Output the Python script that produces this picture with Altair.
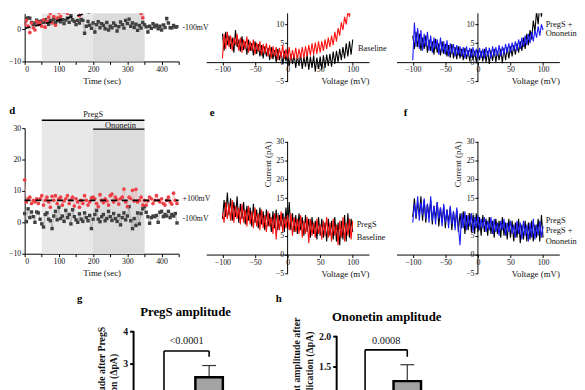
import altair as alt
import pandas as pd

FONT = "Liberation Serif"

# ---------------- data ----------------
TIME_S = list(range(0, 450, 5))

A_POS100 = [1.5, 2.8, 1.0, -1.0, 2.0, 0.5, -0.2, 2.5, 1.5, 2.2,
            1.0, 3.0, 0.7, 2.5, 3.8, 5.0, 2.0, 4.0, 1.3, 3.5,
            5.3, 4.0, 6.0, 5.5, 6.8, 5.0, 7.0, 6.0, 8.5, 7.5,
            6.5, 9.0, 4.3, 8.0, 10.0, 7.0, 9.5, 11.0, 8.5, 10.5,
            12.0, 9.0, 6.2, 11.0, 13.0, 6.8, 8.0, 6.6, 14.0, 11.0,
            9.5, 13.0, 10.5, 15.0, 12.0, 9.0, 13.5, 11.0, 14.0, 10.0,
            6.5, 15.0, 11.0, 13.0, 9.0, 12.0, 14.0, 6.8, 5.0, 3.6,
            8.0, 11.0, 13.0, 9.5, 12.0, 14.0, 10.0, 12.5, 15.0, 11.0,
            13.0, 9.5, 12.0, 14.0, 10.5, 13.0, 11.0, 6.8, 9.0, 12.0]
A_NEG100 = [2.0, 3.4, 3.6, 3.5, 2.2, 1.5, 2.0, 2.9, 2.5, 1.8,
            2.6, 2.2, 3.0, 2.4, 1.6, 2.8, 2.5, 3.2, 2.0, 2.7,
            3.4, 2.4, 3.0, 1.8, 2.9, 3.5, 2.2, 4.3, 3.0, 2.5,
            1.5, 2.8, 2.0, 3.1, 2.8, -1.2, 1.0, 2.5, 1.3, 0.3,
            2.0, -0.8, 1.5, 2.4, 0.5, 1.8, 1.3, 0.2, 2.2, -0.2,
            1.0, 0.5, 2.0, 1.2, -0.5, 0.8, 2.3, 1.5, 0.4, 2.8,
            1.8, 3.2, 1.0, 2.0, 0.6, 1.6, -0.3, 1.2, 0.4, 2.2,
            1.5, 0.8, -0.8, 1.0, 0.3, 1.8, 0.8, 1.3, 0.2, 1.0,
            -0.2, 1.4, 0.6, 3.4, 2.0, 0.5, 0.5, 1.2, 0.7, 0.8]
A_FIT_T = [0, 450]
A_FIT_V = [0.3, 12.0]

D_POS100 = [13.5, 6.5, 7.5, 8.0, 6.0, 7.0, 6.5, 7.5, 6.0, 7.5,
            8.5, 5.5, 7.0, 8.0, 6.5, 4.8, 8.3, 7.0, 8.5, 6.0,
            7.5, 8.0, 5.5, 6.8, 7.5, 8.5, 6.0, 7.2, 8.0, 5.2,
            7.5, 6.5, 4.8, 7.0, 6.0, 8.5, 7.0, 5.5, 6.5, 7.8,
            8.0, 7.5, 6.0, 5.0, 8.8, 7.0, 6.3, 7.5, 6.8, 5.5,
            8.5, 9.0, 6.5, 8.0, 7.2, 5.8, 7.5, 8.0, 10.6, 6.5,
            5.0, 8.0, 7.5, 10.2, 6.8, 10.5, 6.5, 7.0, 8.0, 5.5,
            7.0, 5.5, 6.8, 8.0, 7.5, 6.0, 7.0, 8.5, 7.0, 6.5,
            7.5, 6.0, 5.5, 7.0, 8.0, 6.5, 5.8, 9.3, 7.0, 6.0]
D_NEG100 = [2.8, 0.2, 4.3, 1.5, 3.3, 1.8, 0.0, 3.3, 3.0, 1.0,
            -0.5, -1.5, 2.5, 3.0, 1.0, 0.5, -2.0, 2.0, 3.5, 0.8,
            4.8, 1.2, 2.0, 0.3, 3.8, 1.5, 2.5, -0.5, 4.0, 1.8,
            0.8, 0.0, 2.7, 1.0, 0.3, 3.0, 1.5, 0.5, 2.2, -2.0,
            1.0, 2.5, 3.8, 1.0, 0.2, 1.8, 2.5, 0.5, 1.2, 3.5,
            1.8, 0.6, 2.8, 1.2, 0.3, 2.2, -0.8, 1.5, 3.0, 0.8,
            2.0, 5.0, 0.5, -2.0, 1.2, -1.0, 3.0, -0.5, 2.8, 4.3,
            5.0, 3.2, 1.8, -0.3, 1.5, 2.0, 1.8, 2.2, 0.0, 3.2,
            3.5, 1.8, 2.5, 2.0, 3.5, 1.5, 2.5, 2.0, 2.8, -0.2]
D_MEAN_T = [0, 450]
D_MEAN_V = [7.0, 7.0]

PREGS_WINDOW = [50, 350]
ONON_WINDOW = [200, 350]

VOLT_MV = [-100 + 2.5 * i for i in range(81)]

B_BASELINE = [7.5, 3.0, 8.0, 4.5, 7.0, 3.5, 6.5, 2.5, 8.5, 4.0,
              6.0, 2.8, 6.8, 3.2, 5.5, 2.0, 6.0, 3.0, 5.0, 1.8,
              5.5, 2.2, 4.8, 1.5, 4.5, 1.0, 4.2, 1.5, 3.8, 0.5,
              4.0, 0.8, 3.2, 0.0, 3.5, 0.5, 2.8, -0.5, 3.0, 0.2,
              2.5, -1.0, 2.2, -0.5, 2.0, -1.5, 1.8, -1.0, 2.2, -1.8,
              1.5, -1.2, 2.0, -2.0, 1.5, -1.5, 1.8, -2.5, 1.2, -1.8,
              1.5, -2.0, 1.8, -1.5, 2.0, -1.0, 2.2, -1.2, 2.8, -0.5,
              3.0, 0.0, 3.5, 0.5, 4.0, 1.0, 5.0, 1.5, 5.5, 2.0, 6.0]
B_PREGS = [1.0, 7.5, 3.5, 8.0, 4.0, 7.0, 3.0, 6.5, 4.5, 7.5,
           3.0, 6.5, 2.5, 6.0, 3.5, 6.8, 2.5, 5.5, 3.0, 6.0,
           2.0, 5.2, 2.8, 5.5, 1.8, 4.8, 2.2, 5.0, 1.5, 4.5,
           1.0, 4.2, 1.5, 4.0, 0.5, 3.8, 1.2, 4.5, 0.8, 3.5,
           1.0, 4.0, 0.5, 3.2, 1.0, 3.8, 0.8, 3.5, 1.2, 4.0,
           1.0, 4.2, 1.5, 4.5, 1.8, 5.0, 2.0, 5.2, 2.2, 5.5,
           2.5, 5.5, 3.0, 6.0, 3.5, 6.5, 4.0, 7.0, 4.5, 8.0,
           5.5, 9.0, 7.0, 10.5, 8.5, 12.0, 10.0, 13.5, 12.0, 16.0, 14.5]
C_PREGS = [7.0, 3.5, 8.0, 4.0, 7.5, 3.0, 6.5, 3.5, 7.0, 2.5,
           6.0, 3.0, 5.5, 2.0, 6.2, 2.5, 5.0, 1.8, 5.5, 2.2,
           4.8, 1.5, 4.5, 1.2, 4.8, 1.0, 4.0, 0.8, 4.2, 1.0,
           3.5, 0.5, 3.8, 0.8, 3.2, 0.2, 3.5, 0.5, 3.0, 0.0,
           3.2, 0.5, 3.0, 0.2, 3.5, 0.0, 3.0, -0.5, 3.2, 0.3,
           3.5, 0.0, 3.0, 0.5, 3.5, -0.3, 3.8, 0.5, 4.0, 1.0,
           4.2, 1.5, 4.5, 2.0, 5.0, 2.5, 5.5, 3.0, 6.5, 3.5,
           7.5, 4.5, 8.5, 6.0, 11.0, 8.0, 13.5, 10.0, 15.5, 12.0, 16.0]
C_PREGS_ONON = [0.5, 10.5, 4.0, 9.0, 3.5, 8.5, 3.0, 7.5, 4.0, 8.0,
                3.0, 7.0, 2.5, 6.5, 3.5, 6.0, 2.0, 6.5, 2.5, 5.5,
                2.0, 5.8, 1.5, 5.0, 2.2, 4.8, 1.5, 4.5, 1.8, 4.2,
                1.5, 4.0, 1.0, 4.2, 1.5, 3.8, 1.2, 4.0, 1.5, 3.5,
                1.0, 3.8, 1.2, 3.5, 1.0, 4.0, 1.5, 3.8, 1.0, 4.2,
                1.5, 4.0, 1.8, 4.5, 1.5, 4.2, 2.0, 4.8, 2.5, 5.0,
                2.5, 5.2, 3.0, 5.5, 3.0, 6.0, 3.5, 6.5, 4.0, 7.0,
                4.5, 7.5, 5.0, 8.0, 5.5, 8.5, 6.5, 9.5, 7.0, 10.0, 8.5]
E_BASELINE = [9.5, 14.5, 10.0, 16.5, 10.5, 15.0, 9.0, 14.0, 10.0, 15.5,
              8.5, 13.5, 9.5, 14.0, 8.0, 13.0, 9.0, 12.5, 7.5, 13.5,
              8.5, 12.0, 7.0, 12.5, 8.0, 11.5, 6.5, 12.0, 7.5, 11.0,
              6.0, 11.5, 7.0, 12.0, 6.5, 10.5, 7.5, 11.0, 6.0, 12.5,
              7.0, 14.0, 6.5, 11.0, 6.0, 10.5, 5.5, 11.0, 6.5, 10.0,
              5.0, 10.5, 6.0, 9.5, 4.5, 10.0, 5.5, 9.0, 4.0, 10.0,
              5.0, 9.5, 4.5, 8.5, 3.5, 9.5, 5.0, 9.0, 4.0, 10.0,
              3.5, 8.5, 2.5, 9.0, 4.0, 10.5, 3.5, 11.0, 4.5, 9.5, 6.0]
E_PREGS = [11.0, 8.5, 14.0, 9.5, 13.5, 9.0, 14.5, 8.5, 13.0, 9.5,
           12.5, 8.0, 13.5, 8.5, 12.0, 7.5, 13.0, 8.0, 11.5, 7.0,
           12.5, 7.5, 11.0, 6.5, 12.0, 7.0, 10.5, 6.0, 11.5, 7.5,
           10.0, 5.5, 11.0, 4.0, 10.5, 6.5, 11.5, 6.0, 10.0, 7.0,
           10.5, 6.5, 11.0, 5.0, 10.0, 6.0, 9.5, 5.5, 10.5, 4.5,
           9.0, 5.5, 10.0, 3.0, 9.5, 5.0, 8.5, 4.5, 9.5, 5.5,
           8.0, 4.0, 9.0, 5.0, 10.0, 4.5, 8.5, 3.5, 9.5, 5.0,
           8.0, 2.5, 9.0, 4.5, 10.0, 3.5, 8.5, 5.0, 9.5, 4.0, 9.0]
F_PREGS = [10.0, 15.0, 9.5, 14.0, 10.5, 15.5, 9.0, 14.5, 8.5, 13.5,
           10.0, 14.5, 8.0, 13.0, 9.5, 14.0, 7.5, 12.5, 8.5, 13.0,
           7.0, 12.0, 8.5, 12.5, 6.5, 11.5, 7.5, 12.0, 6.0, 11.0,
           7.0, 11.5, 5.5, 10.5, 6.5, 11.0, 6.0, 10.5, 5.5, 11.0,
           6.0, 10.0, 5.0, 10.5, 6.0, 9.5, 5.0, 10.0, 5.5, 9.0,
           4.5, 9.5, 5.5, 9.0, 4.5, 10.0, 5.0, 8.5, 4.0, 9.5,
           4.5, 9.0, 3.5, 8.5, 4.5, 9.5, 3.0, 8.0, 4.0, 9.0,
           3.5, 8.5, 4.0, 9.0, 3.5, 8.0, 4.5, 9.5, 3.5, 10.5, 4.5]
F_PREGS_ONON = [8.5, 13.5, 10.0, 15.5, 9.0, 14.0, 10.5, 15.0, 9.5, 13.5,
                8.5, 15.5, 9.0, 13.0, 8.0, 14.0, 9.5, 12.5, 7.5, 13.5,
                8.5, 12.0, 7.0, 13.0, 8.0, 11.5, 6.5, 12.5, 7.5, 2.5,
                11.0, 7.0, 11.5, 6.5, 10.5, 7.5, 11.0, 6.0, 10.0, 7.0,
                10.5, 6.5, 9.5, 7.0, 10.0, 6.0, 9.0, 6.5, 10.0, 5.5,
                9.5, 6.0, 8.5, 5.0, 9.0, 6.5, 9.5, 5.0, 8.5, 6.0,
                9.0, 5.5, 8.0, 4.5, 9.0, 5.5, 8.5, 4.0, 9.0, 5.0,
                8.0, 3.5, 8.5, 4.5, 9.5, 4.0, 8.0, 5.0, 9.0, 4.5, 7.5]

G_GROUPS = ["Baseline", "PregS"]
G_MEANS = [0.35, 2.58]
G_SEMS = [0.25, 0.36]
G_P = "<0.0001"
H_GROUPS = ["PregS", "PregS + Ononetin"]
H_MEANS = [0.2, 1.26]
H_SEMS = [0.15, 0.27]
H_P = "0.0008"

RED_TRACE = "#ff1010"
BLUE_TRACE = "#1a1aff"
PT_RED = "#ee3f46"
PT_GRAY = "#404040"


def qx(field, scale, axis):
    return alt.X(field, type="quantitative", scale=scale, axis=axis)


def qy(field, scale, axis):
    return alt.Y(field, type="quantitative", scale=scale, axis=axis)


def time_panel(pos, neg, line_t, line_v, ydom, yvals, height, shade_tops, clip,
               labels, letter=None, treatment=None):
    xs = alt.Scale(domain=[0, 450], nice=False, zero=False)
    ys = alt.Scale(domain=ydom, nice=False, zero=False)
    xax = alt.Axis(values=list(range(0, 451, 50)), title="Time (sec)", titlePadding=3)
    yax = alt.Axis(values=yvals, title=None)
    X = lambda f: qx(f, xs, xax)
    Y = lambda f: qy(f, ys, yax)
    layers = []
    shade_colors = ["#e8e8e8", "#dcdcdc"]
    for win, top, col in zip([PREGS_WINDOW, ONON_WINDOW], shade_tops, shade_colors):
        sd = pd.DataFrame({"t0": [win[0]], "t1": [win[1]], "v0": [ydom[0]], "v1": [top]})
        layers.append(alt.Chart(sd).mark_rect(clip=clip, color=col).encode(
            x=X("t0"), x2="t1", y=Y("v0"), y2="v1"))
    dpos = pd.DataFrame({"t": TIME_S, "v": pos})
    dneg = pd.DataFrame({"t": TIME_S, "v": neg})
    layers.append(alt.Chart(dneg).mark_line(clip=clip, color="#8c8c8c", strokeWidth=0.6).encode(
        x=X("t"), y=Y("v")))
    layers.append(alt.Chart(dpos).mark_line(clip=clip, color="#f3a0a3", strokeWidth=0.6).encode(
        x=X("t"), y=Y("v")))
    layers.append(alt.Chart(dneg).mark_square(clip=clip, color=PT_GRAY, size=12, opacity=1).encode(
        x=X("t"), y=Y("v")))
    layers.append(alt.Chart(dpos).mark_circle(clip=clip, color=PT_RED, size=14, opacity=1).encode(
        x=X("t"), y=Y("v")))
    dl = pd.DataFrame({"t": line_t, "v": line_v})
    layers.append(alt.Chart(dl).mark_line(clip=clip, color="black", strokeWidth=1.6,
                                          strokeDash=[6, 5]).encode(x=X("t"), y=Y("v")))
    if treatment:
        for (t0, t1, v, txt, tt, tv) in treatment:
            rd = pd.DataFrame({"t0": [t0], "t1": [t1], "v": [v]})
            layers.append(alt.Chart(rd).mark_rule(color="black", strokeWidth=1.4).encode(
                x=X("t0"), x2="t1", y=Y("v")))
            td = pd.DataFrame({"t": [tt], "v": [tv], "txt": [txt]})
            layers.append(alt.Chart(td).mark_text(fontSize=8.5, baseline="middle", color="#111").encode(
                x=X("t"), y=Y("v"), text="txt:N"))
    ld = pd.DataFrame(labels, columns=["t", "v", "txt"])
    layers.append(alt.Chart(ld).mark_text(fontSize=8, align="left", baseline="middle", color="#111").encode(
        x=X("t"), y=Y("v"), text="txt:N"))
    if letter:
        lt = pd.DataFrame([letter], columns=["t", "v", "txt"])
        layers.append(alt.Chart(lt).mark_text(fontSize=11, fontWeight="bold", baseline="middle",
                                              color="black").encode(x=X("t"), y=Y("v"), text="txt:N"))
    return alt.layer(*layers).properties(width=157, height=height)


def iv_panel(traces, ydom, ytick_top, yvals, height, labels, clip, ytitle=None, letter=None,
             title_shift=0):
    """Current-voltage trace panel with axes crossing at the origin.
    ydom[1] may exceed the last tick; the y axis line is then drawn as a rule up to ytick_top."""
    width = 166
    xs = alt.Scale(domain=[-125, 125], nice=False, zero=False)
    ys = alt.Scale(domain=ydom, nice=False, zero=False)
    x_off = -height * (0 - ydom[0]) / (ydom[1] - ydom[0])
    xax = alt.Axis(values=[-100, -50, 0, 50, 100], title="Voltage (mV)", titleAnchor="end",
                   offset=x_off, titlePadding=3)
    if ytitle:
        yax = alt.Axis(values=yvals, offset=-width / 2, title=ytitle, titleAnchor="end",
                       titleAlign="right", titleY=title_shift, titlePadding=3, domain=False)
    else:
        yax = alt.Axis(values=yvals, offset=-width / 2, title=None, domain=False)
    X = lambda f: qx(f, xs, xax)
    Y = lambda f: qy(f, ys, yax)
    layers = []
    ax = pd.DataFrame({"mv": [0], "lo": [ydom[0]], "hi": [ytick_top]})
    layers.append(alt.Chart(ax).mark_rule(color="black", strokeWidth=1).encode(
        x=X("mv"), y=Y("lo"), y2="hi"))
    for vals, color in traces:
        df = pd.DataFrame({"mv": VOLT_MV, "pa": vals})
        layers.append(alt.Chart(df).mark_line(clip=clip, color=color, strokeWidth=1.1).encode(
            x=X("mv"), y=Y("pa")))
    ld = pd.DataFrame(labels, columns=["mv", "pa", "txt"])
    layers.append(alt.Chart(ld).mark_text(fontSize=8.5, align="left", baseline="middle", color="#111").encode(
        x=X("mv"), y=Y("pa"), text="txt:N"))
    if letter:
        lt = pd.DataFrame([letter], columns=["mv", "pa", "txt"])
        layers.append(alt.Chart(lt).mark_text(fontSize=11, fontWeight="bold", baseline="middle",
                                              color="black").encode(x=X("mv"), y=Y("pa"), text="txt:N"))
    return alt.layer(*layers).properties(width=width, height=height)


def bar_panel(groups, means, sems, pval, ydom, ytick_top, yvals, height, cell_w, axis_px,
              step_px, first_px, bar_px, bracket_y, right_leg_end, left_leg_end, p_y,
              heading, heading_px, heading_y, letter, letter_px, letter_y, ytitle, fmt):
    """Bar panel in a grid cell of width cell_w; its y axis sits axis_px from the cell's left edge.
    x is measured in group units (first group = 1, one unit = step_px)."""
    to_x = lambda px_from_axis: 1 + (px_from_axis - first_px) / step_px
    lo = to_x(-axis_px)
    hi = lo + cell_w / step_px
    hb = bar_px / 2 / step_px
    cap = 7 / step_px
    xs = alt.Scale(domain=[lo, hi], nice=False, zero=False)
    ys = alt.Scale(domain=ydom, nice=False, zero=False)
    yax = alt.Axis(values=yvals, format=fmt, title=ytitle, titleFontWeight="bold", titleFontSize=10,
                   titleLineHeight=13, labelFontWeight="bold", labelFontSize=10, domain=False,
                   tickWidth=2, tickSize=4, labelPadding=2, titlePadding=4, offset=-axis_px)
    X = lambda f: qx(f, xs, None)
    Y = lambda f: qy(f, ys, yax)
    pos = [i + 1 for i in range(len(groups))]
    df = pd.DataFrame({"g": groups, "pos": pos, "m": means, "e": sems})
    df["x0"] = df["pos"] - hb
    df["x1"] = df["pos"] + hb
    df["c0"] = df["pos"] - cap
    df["c1"] = df["pos"] + cap
    df["top"] = df["m"] + df["e"]
    df["zero"] = 0.0
    axl = pd.DataFrame({"x": [to_x(0)], "lo": [ydom[0]], "hi": [ytick_top]})
    layers = [
        alt.Chart(axl).mark_rule(color="black", strokeWidth=2).encode(x=X("x"), y=Y("lo"), y2="hi"),
        alt.Chart(df).mark_rule(color="#333", strokeWidth=1.2).encode(x=X("pos"), y=Y("m"), y2="top"),
        alt.Chart(df).mark_rule(color="#333", strokeWidth=1.2).encode(x=X("c0"), x2="c1", y=Y("top")),
        alt.Chart(df).mark_bar(color="#a3a3a3", stroke="black", strokeWidth=2.5).encode(
            x=X("x0"), x2="x1", y=Y("zero"), y2="m"),
    ]
    br = pd.DataFrame({"x0": [pos[0], pos[0], pos[1]], "x1": [pos[1], pos[0], pos[1]],
                       "y0": [bracket_y, bracket_y, bracket_y],
                       "y1": [bracket_y, left_leg_end, right_leg_end]})
    layers.append(alt.Chart(br).mark_rule(color="black", strokeWidth=1.6).encode(
        x=X("x0"), x2="x1", y=Y("y0"), y2="y1"))
    txt = pd.DataFrame({"x": [(pos[0] + pos[1]) / 2], "y": [p_y], "t": [pval]})
    layers.append(alt.Chart(txt).mark_text(fontSize=10.5, baseline="middle", color="#111").encode(
        x=X("x"), y=Y("y"), text="t:N"))
    hd = pd.DataFrame({"x": [to_x(heading_px)], "y": [heading_y], "t": [heading]})
    layers.append(alt.Chart(hd).mark_text(fontSize=13, fontWeight="bold", baseline="middle",
                                          color="black").encode(x=X("x"), y=Y("y"), text="t:N"))
    lt = pd.DataFrame({"x": [to_x(letter_px)], "y": [letter_y], "t": [letter]})
    layers.append(alt.Chart(lt).mark_text(fontSize=11, fontWeight="bold", baseline="middle",
                                          color="black").encode(x=X("x"), y=Y("y"), text="t:N"))
    return alt.layer(*layers).properties(width=cell_w, height=height)


# ---------------- panels ----------------
panel_a = time_panel(A_POS100, A_NEG100, A_FIT_T, A_FIT_V, [-10, 5.0], [-10, 0], 49,
                     [5.0, 5.0], True, [(461, 0.4, "-100mV")])

panel_d = time_panel(D_POS100, D_NEG100, D_MEAN_T, D_MEAN_V, [-10, 30], [-10, 0, 10, 20, 30], 128,
                     [32.5, 29.8], False,
                     [(461, 7.5, "+100mV"), (461, 0.9, "-100mV")],
                     letter=(-36, 35.5, "d"),
                     treatment=[(50, 350, 32.5, "PregS", 200, 34.4),
                                (200, 350, 29.7, "Ononetin", 280, 31.1)])

panel_b = iv_panel([(B_BASELINE, "black"), (B_PREGS, RED_TRACE)], [-5, 12.9], 12.9, [-5, 0, 5, 10], 69,
                   [(108, 3.7, "Baseline")], True)
panel_c = iv_panel([(C_PREGS, "black"), (C_PREGS_ONON, BLUE_TRACE)], [-5, 12.9], 12.9, [-5, 0, 5, 10], 69,
                   [(104, 10.2, "PregS +"), (104, 7.6, "Ononetin")], True)
panel_e = iv_panel([(E_BASELINE, "black"), (E_PREGS, RED_TRACE)], [-5, 33.66], 30,
                   [-5, 0, 5, 10, 15, 20, 25, 30], 148,
                   [(106, 8.1, "PregS"), (106, 4.7, "Baseline")], False,
                   ytitle="Current (pA)", letter=(-116, 37.6, "e"), title_shift=13)
panel_f = iv_panel([(F_PREGS, "black"), (F_PREGS_ONON, BLUE_TRACE)], [-5, 33.66], 30,
                   [-5, 0, 5, 10, 15, 20, 25, 30], 148,
                   [(104, 9.1, "PregS"), (104, 6.5, "PregS +"), (104, 3.7, "Ononetin")], False,
                   ytitle="Current (pA)", letter=(-111, 37.6, "f"), title_shift=13)

panel_g = bar_panel(G_GROUPS, G_MEANS, G_SEMS, G_P, [0, 4.333], 4, [0, 1, 2, 3, 4], 143,
                    157, 111, 46, 31, 28, 3.39, 3.21, 1.0, 3.70,
                    "PregS amplitude", 53, 4.58, "g", -55, 5.0,
                    ["Current amplitude after PregS", "application (ΔpA)"], "d")
panel_h = bar_panel(H_GROUPS, H_MEANS, H_SEMS, H_P, [0, 2.258], 2.0, [0, 0.5, 1.0, 1.5, 2.0], 140,
                    166, 133, 43, 29, 28, 1.774, 1.66, 0.6, 1.92,
                    "Ononetin amplitude", 51, 2.32, "h", -59, 2.61,
                    ["Change in current amplitude after", "Ononetin application (ΔpA)"], ".1f")

chart = alt.concat(
    panel_a, panel_b, panel_c,
    panel_d, panel_e, panel_f,
    panel_g, panel_h,
    columns=3, spacing={"row": 48, "column": 28}, bounds="flush", align="each",
).properties(
    padding={"left": 0, "top": 0, "right": 0, "bottom": 0}
).configure(font=FONT).configure_view(stroke=None).configure_axis(
    grid=False, domainColor="black", tickColor="black", labelColor="#111", titleColor="#111",
    labelFont=FONT, titleFont=FONT, labelFontSize=8, titleFontSize=9, titleFontWeight="normal",
    tickSize=3, labelPadding=1, domainWidth=1, tickWidth=1
).configure_text(font=FONT)

chart.save("out.html", embed_options={"renderer": "svg", "actions": False})
